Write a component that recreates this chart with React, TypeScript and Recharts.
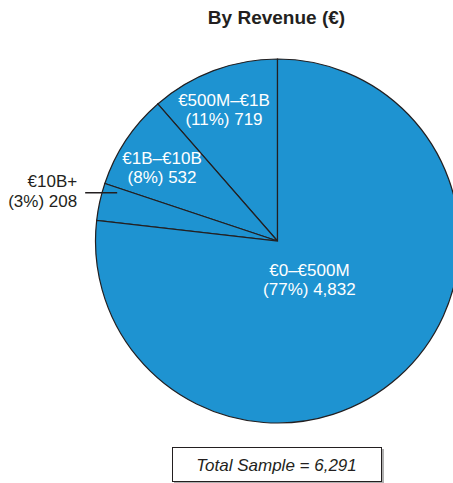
import { PieChart, Pie, Cell } from 'recharts'

const CATEGORIES = ['€500M–€1B', '€1B–€10B', '€10B+', '€0–€500M']
const COUNTS = [719, 532, 208, 4832]
const TOTAL_SAMPLE = 6291

const FILL = '#1e93d1'
const EDGE = '#231f20'
const FONT = '"Liberation Sans", Arial, Helvetica, sans-serif'
const RAD = Math.PI / 180

// radius factor + angle nudge for each label, leader = label sits outside with a short rule
const LABEL_POS = [
  { r: 0.75, shift: 2.5, leader: false },
  { r: 0.735, shift: 3.3, leader: false },
  { r: 0.92, shift: -4.3, leader: true },
  { r: 0.3, shift: -6, leader: false },
]

const data = CATEGORIES.map((name, i) => ({ name, value: COUNTS[i] }))

function renderLabel(props: any) {
  const { cx, cy, midAngle, outerRadius, index, percent, value, name } = props
  const pos = LABEL_POS[index]
  const a = (midAngle + pos.shift) * RAD
  const x = cx + outerRadius * pos.r * Math.cos(a)
  const y = cy - outerRadius * pos.r * Math.sin(a)
  const second = `(${Math.round(percent * 100)}%) ${value.toLocaleString('en-US')}`

  if (pos.leader) {
    return (
      <g>
        <line x1={x} y1={y} x2={x - 32} y2={y} stroke={EDGE} strokeWidth={1.6} />
        <text x={x - 40} y={y - 6} textAnchor="end" fill="#231f20" fontSize={17} fontFamily={FONT}>
          {name}
        </text>
        <text x={x - 40} y={y + 14} textAnchor="end" fill="#231f20" fontSize={17} fontFamily={FONT}>
          {second}
        </text>
      </g>
    )
  }
  return (
    <g>
      <text x={x} y={y - 9.5} textAnchor="middle" fill="#ffffff" fontSize={17} fontFamily={FONT}>
        {name}
      </text>
      <text x={x} y={y + 9.5} textAnchor="middle" fill="#ffffff" fontSize={17} fontFamily={FONT}>
        {second}
      </text>
    </g>
  )
}

export default function App() {
  return (
    <div style={{ position: 'absolute', left: 8, top: 8, width: 445, height: 475, overflow: 'hidden' }}>
      <PieChart width={460} height={475} margin={{ top: 0, right: 0, bottom: 0, left: 0 }}>
        <Pie
          data={data}
          dataKey="value"
          nameKey="name"
          cx={269.5}
          cy={233}
          outerRadius={182}
          startAngle={90}
          endAngle={450}
          stroke={EDGE}
          strokeWidth={1.2}
          label={renderLabel}
          labelLine={false}
          isAnimationActive={false}
        >
          {data.map((d) => (
            <Cell key={d.name} fill={FILL} />
          ))}
        </Pie>
      </PieChart>
      <svg
        width={445}
        height={475}
        style={{ position: 'absolute', left: 0, top: 0, pointerEvents: 'none' }}
      >
        <text x={268.5} y={16} textAnchor="middle" fontSize={19} fontWeight="bold" fill="#231f20" fontFamily={FONT}>
          By Revenue (€)
        </text>
        <rect x={166} y={441} width={210} height={35} fill="#b0b0b0" />
        <rect x={164.5} y={439.5} width={209} height={34} fill="#ffffff" stroke={EDGE} strokeWidth={1} />
        <text x={268.5} y={462.7} textAnchor="middle" fontSize={17} fontStyle="italic" fill="#231f20" fontFamily={FONT}>
          {`Total Sample = ${TOTAL_SAMPLE.toLocaleString('en-US')}`}
        </text>
      </svg>
    </div>
  )
}
